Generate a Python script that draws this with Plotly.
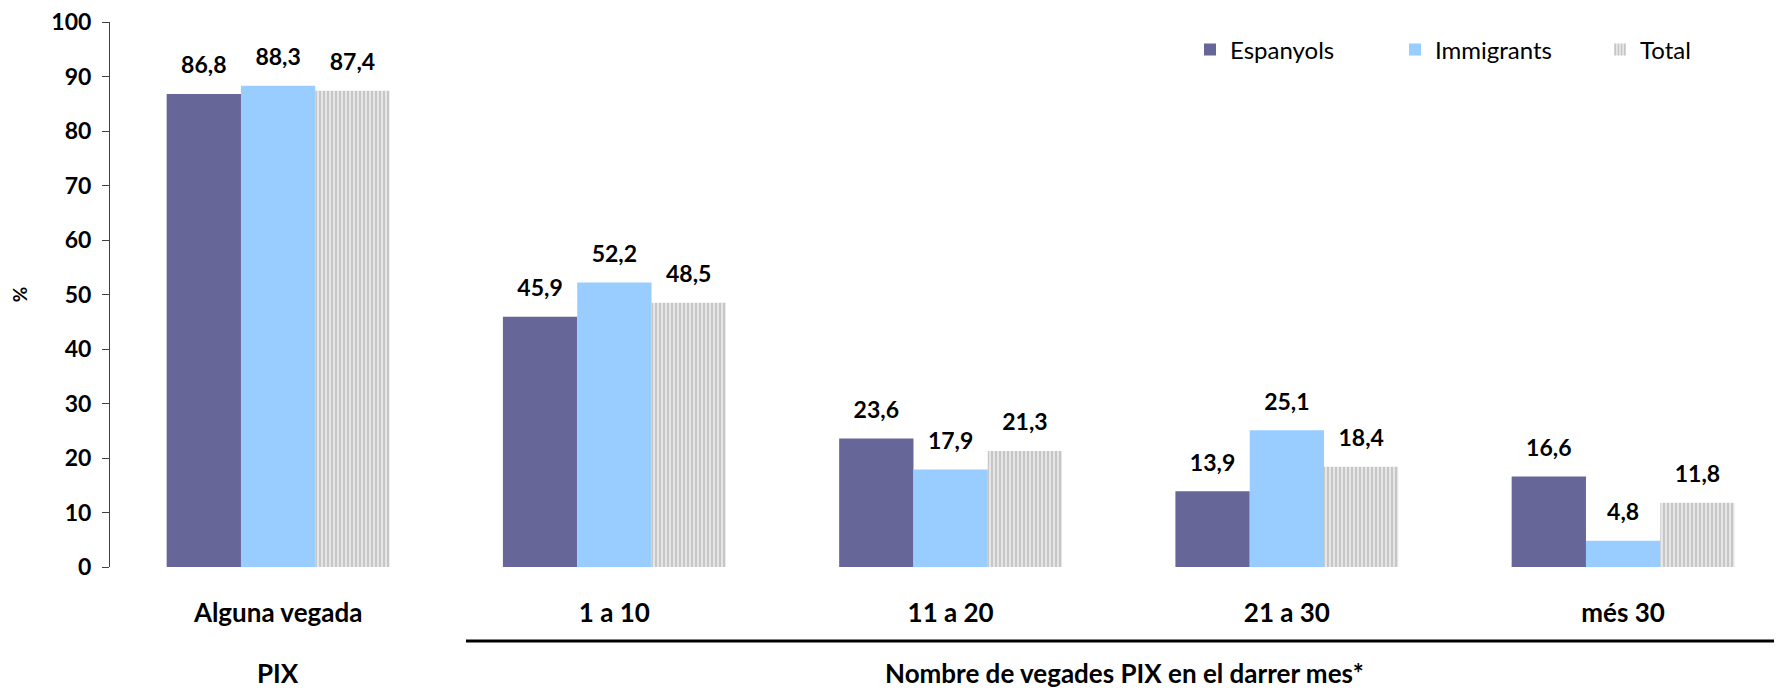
import plotly.graph_objects as go

categories = ["Alguna vegada", "1 a 10", "11 a 20", "21 a 30", "més 30"]
espanyols = [86.8, 45.9, 23.6, 13.9, 16.6]
immigrants = [88.3, 52.2, 17.9, 25.1, 4.8]
total = [87.4, 48.5, 21.3, 18.4, 11.8]
y_ticks = [0, 10, 20, 30, 40, 50, 60, 70, 80, 90, 100]

OFF = 8  # page body margin
W, H = 1782 - OFF, 690 - OFF
ML, MR, MT, MB = 110 - OFF, 2, 22 - OFF, 123
plot_w = W - ML - MR
plot_h = H - MT - MB
FONT = "Lato"
GAP = 0.337


def px(xi):
    return (xi - OFF - ML) / plot_w


def py(yi):
    return (H - MB - (yi - OFF)) / plot_h


def fmt(v):
    return f"{v:.1f}".replace(".", ",")


series = [
    ("Espanyols", espanyols, dict(color="#666699", line=dict(width=0))),
    ("Immigrants", immigrants, dict(color="#99CCFF", line=dict(width=0))),
    ("Total", total, dict(color="#ffffff", line=dict(width=0),
                          pattern=dict(shape="|", fgcolor="#a6a6a6", bgcolor="#e6e6e6",
                                       size=4, solidity=0.5))),
]

fig = go.Figure()
for name, vals, mk in series:
    fig.add_trace(go.Bar(name=name, x=categories, y=vals, marker=mk, hoverinfo="x+y+name"))
# value labels, grouped the same way as the bars
for name, vals, mk in series:
    fig.add_trace(go.Scatter(
        x=categories, y=vals, mode="markers+text", showlegend=False, hoverinfo="skip",
        marker=dict(size=22, color="rgba(0,0,0,0)"),
        text=[fmt(v) for v in vals], textposition="top center",
        textfont=dict(family=FONT, size=23, color="black", weight="bold"),
        cliponaxis=False))

x_max = -0.5 + plot_w / 336.25

fig.update_layout(
    width=W, height=H,
    margin=dict(l=ML, r=MR, t=MT, b=MB, autoexpand=False),
    paper_bgcolor="white", plot_bgcolor="white",
    barmode="group", bargap=GAP, bargroupgap=0,
    scattermode="group", scattergap=GAP,
    font=dict(family=FONT, color="black"),
    showlegend=True,
    legend=dict(orientation="h", x=px(1190), xanchor="left",
                y=py(50), yanchor="middle", entrywidth=160,
                font=dict(family=FONT, size=24, color="black"),
                bgcolor="rgba(0,0,0,0)"),
    xaxis=dict(type="category", range=[-0.5, x_max], showline=False, showgrid=False,
               ticks="", ticklabelstandoff=28,
               tickfont=dict(family=FONT, size=26, color="black", weight="bold")),
    yaxis=dict(range=[0, 100], tickvals=y_ticks, showgrid=False, zeroline=False,
               showline=True, linecolor="#404040", linewidth=1,
               ticks="outside", ticklen=7, tickcolor="#404040", ticklabelstandoff=6,
               ticklabeloverflow="allow",
               tickfont=dict(family=FONT, size=23, color="black", weight="bold"),
               title=dict(text="%", standoff=22,
                          font=dict(family=FONT, size=19, color="black", weight="bold"))),
)

fig.add_shape(type="line", xref="paper", yref="paper",
              x0=px(466), x1=1.0, y0=py(641), y1=py(641),
              line=dict(color="black", width=3))

fig.add_annotation(text="PIX", xref="x", yref="paper", x=categories[0], y=py(673),
                   showarrow=False, yanchor="middle",
                   font=dict(family=FONT, size=26, color="black", weight="bold"))
fig.add_annotation(text="Nombre de vegades PIX en el darrer mes*", xref="paper", yref="paper",
                   x=px((466 + 1782) / 2), y=py(673),
                   showarrow=False, yanchor="middle",
                   font=dict(family=FONT, size=26, color="black", weight="bold"))

fig.write_html("out.html")
